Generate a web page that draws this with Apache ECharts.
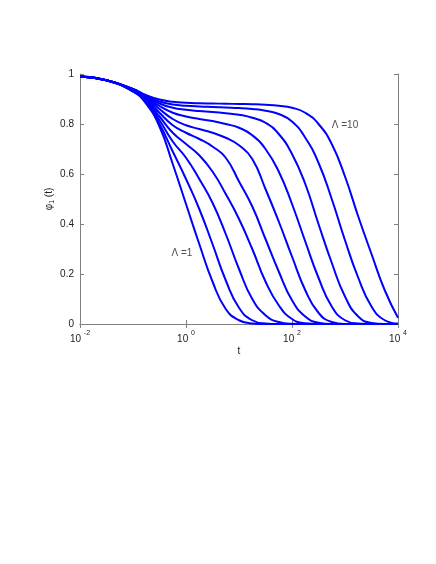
<!DOCTYPE html>
<html>
<head>
<meta charset="utf-8">
<script src="https://cdn.jsdelivr.net/npm/echarts@6/dist/echarts.min.js"></script>
<style>
  html, body { margin: 0; padding: 0; background: #fff; }
  #phiChart { width: 436px; height: 564px; }
</style>
</head>
<body>
<div id="phiChart"></div>
<script>
// time points (log spaced)
var tVals = [0.01, 0.0316, 0.1, 0.178, 0.316, 0.562, 1, 1.78, 3.16, 5.62, 10, 17.8, 31.6, 56.2, 100, 178, 316, 562, 1000, 1778, 3162, 5623, 10000]

// phi_1(t) for Lambda = 1 .. 10
var phiL1 = [0.99, 0.975, 0.93, 0.88, 0.79, 0.64, 0.48, 0.32, 0.17, 0.06, 0.015, 0.002, 0, 0, 0, 0, 0, 0, 0, 0, 0, 0, 0]
var phiL2 = [0.99, 0.975, 0.93, 0.885, 0.80, 0.69, 0.58, 0.46, 0.32, 0.175, 0.065, 0.015, 0.002, 0, 0, 0, 0, 0, 0, 0, 0, 0, 0]
var phiL3 = [0.99, 0.975, 0.932, 0.89, 0.815, 0.73, 0.665, 0.58, 0.485, 0.36, 0.22, 0.10, 0.035, 0.008, 0.001, 0, 0, 0, 0, 0, 0, 0, 0]
var phiL4 = [0.99, 0.975, 0.933, 0.895, 0.83, 0.765, 0.72, 0.675, 0.61, 0.52, 0.42, 0.30, 0.17, 0.075, 0.02, 0.003, 0, 0, 0, 0, 0, 0, 0]
var phiL5 = [0.99, 0.975, 0.935, 0.90, 0.845, 0.795, 0.765, 0.74, 0.71, 0.665, 0.57, 0.47, 0.34, 0.21, 0.095, 0.03, 0.005, 0, 0, 0, 0, 0, 0]
var phiL6 = [0.99, 0.975, 0.937, 0.905, 0.86, 0.82, 0.795, 0.78, 0.765, 0.745, 0.715, 0.66, 0.54, 0.41, 0.27, 0.135, 0.045, 0.008, 0, 0, 0, 0, 0]
var phiL7 = [0.99, 0.975, 0.938, 0.908, 0.872, 0.845, 0.83, 0.82, 0.812, 0.80, 0.785, 0.755, 0.70, 0.61, 0.48, 0.33, 0.185, 0.07, 0.015, 0.002, 0, 0, 0]
var phiL8 = [0.99, 0.975, 0.939, 0.911, 0.882, 0.865, 0.857, 0.852, 0.848, 0.843, 0.837, 0.825, 0.805, 0.76, 0.68, 0.56, 0.40, 0.245, 0.11, 0.03, 0.004, 0, 0]
var phiL9 = [0.99, 0.975, 0.94, 0.913, 0.89, 0.878, 0.873, 0.87, 0.868, 0.866, 0.864, 0.86, 0.853, 0.84, 0.81, 0.745, 0.645, 0.50, 0.335, 0.185, 0.07, 0.015, 0.002]
var phiL10 = [0.99, 0.975, 0.94, 0.915, 0.898, 0.889, 0.885, 0.883, 0.882, 0.881, 0.88, 0.879, 0.877, 0.873, 0.865, 0.845, 0.80, 0.72, 0.59, 0.43, 0.28, 0.135, 0.025]

var allPhi = [phiL1, phiL2, phiL3, phiL4, phiL5, phiL6, phiL7, phiL8, phiL9, phiL10]
var yTicks = [0, 0.2, 0.4, 0.6, 0.8, 1]

// curve labels, placed in data coordinates
var labelTexts = ['Λ =1', 'Λ =10']
var labelT = [0.84, 1000]
var labelPhi = [0.283, 0.796]

var axisColor = '#7f7f7f'
var textColor = '#222'
var fontName = 'Liberation Sans'

function pairUp (ys) {
  return tVals.map(function (t, i) { return [t, ys[i]] })
}

var series = allPhi.map(function (ys, k) {
  return {
    name: 'Λ=' + (k + 1),
    type: 'line',
    data: pairUp(ys),
    smooth: 0.5,
    showSymbol: false,
    symbol: 'none',
    lineStyle: { color: '#0000ff', width: 2 },
    z: 3
  }
})

// text labels through a hidden series
series.push({
  type: 'scatter',
  symbolSize: 0,
  data: labelTexts.map(function (s, i) { return { value: [labelT[i], labelPhi[i]], name: s } }),
  label: {
    show: true,
    position: 'inside',
    formatter: '{b}',
    color: textColor,
    fontSize: 10,
    fontFamily: fontName
  },
  z: 4
})

var logAxisBase = {
  type: 'log',
  logBase: 10,
  min: 0.01,
  max: 10000,
  interval: 2,
  axisLine: { show: true, lineStyle: { color: axisColor, width: 1 } },
  axisTick: { show: true, inside: true, length: 4, lineStyle: { color: axisColor } },
  splitLine: { show: false },
  minorTick: { show: false }
}

var valAxisBase = {
  type: 'value',
  min: 0,
  max: 1,
  interval: 0.2,
  axisLine: { show: true, lineStyle: { color: axisColor, width: 1 } },
  axisTick: { show: true, inside: true, length: 4, lineStyle: { color: axisColor } },
  splitLine: { show: false }
}

var option = {
  animation: false,
  backgroundColor: '#fff',
  grid: { left: 80, right: 38, top: 74, bottom: 240, containLabel: false },
  xAxis: [
    Object.assign({}, logAxisBase, {
      position: 'bottom',
      name: 't',
      nameLocation: 'middle',
      nameGap: 22,
      nameMoveOverlap: false,
      nameTextStyle: { color: textColor, fontSize: 10, fontFamily: fontName },
      axisLabel: {
        color: textColor,
        margin: 6,
        fontFamily: fontName,
        formatter: function (v) {
          var e = Math.round(Math.log(v) / Math.LN10)
          return '{b|10 }{s|' + e + '}'
        },
        rich: {
          b: { fontSize: 10, color: textColor, fontFamily: fontName, verticalAlign: 'bottom', lineHeight: 14 },
          s: { fontSize: 7, color: textColor, fontFamily: fontName, verticalAlign: 'top', lineHeight: 14, padding: [0, 0, 6, 0] }
        }
      }
    }),
    Object.assign({}, logAxisBase, {
      position: 'top',
      axisLabel: { show: false }
    })
  ],
  yAxis: [
    Object.assign({}, valAxisBase, {
      position: 'left',
      name: 'φ{s|1} (t)',
      nameLocation: 'middle',
      nameGap: 24,
      nameMoveOverlap: false,
      nameRotate: 90,
      nameTextStyle: {
        color: textColor,
        fontSize: 10,
        fontFamily: fontName,
        rich: {
          s: { fontSize: 7, color: textColor, fontFamily: fontName, padding: [6, 0, 0, 0] }
        }
      },
      axisLabel: {
        color: textColor,
        fontSize: 10,
        margin: 6,
        fontFamily: fontName,
        formatter: function (v) { return yTicks.indexOf(v) >= 0 ? String(v) : '' }
      }
    }),
    Object.assign({}, valAxisBase, {
      position: 'right',
      axisLabel: { show: false }
    })
  ],
  series: series
}

var dom = document.getElementById('phiChart')
var myChart = echarts.init(dom, null, { renderer: 'canvas' })
myChart.setOption(option)
</script>
</body>
</html>
